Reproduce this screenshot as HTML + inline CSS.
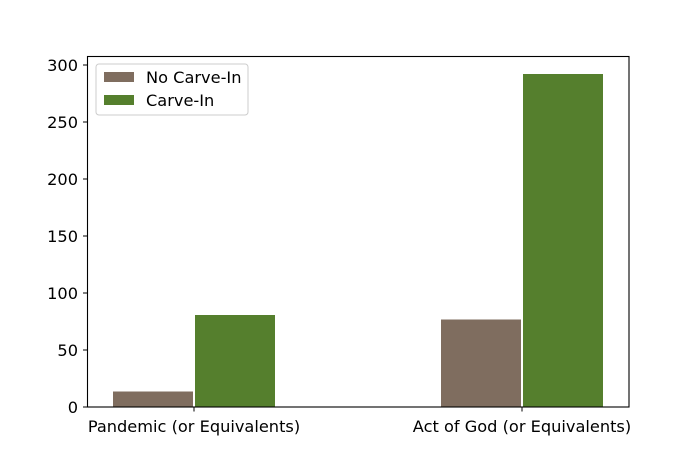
<!DOCTYPE html><html><head><style>body{margin:0;background:#fff}svg{display:block}</style></head><body>
<svg width="697" height="464" xmlns="http://www.w3.org/2000/svg" font-family="DejaVu Sans, sans-serif" font-size="16.2">
<rect width="697" height="464" fill="#fff"/>
<g stroke="#fff" stroke-width="1">
<rect x="112.5" y="391" width="81" height="16" fill="#7f6d5f"/>
<rect x="194.5" y="314.5" width="81" height="92.5" fill="#557f2d"/>
<rect x="440.5" y="319" width="81" height="88" fill="#7f6d5f"/>
<rect x="522.5" y="73.5" width="81" height="333.5" fill="#557f2d"/>
</g>
<rect x="87.5" y="56.5" width="541.5" height="350.5" fill="none" stroke="#000" stroke-width="1.1"/>
<g stroke="#000" stroke-width="1">
<line x1="83" x2="87.5" y1="407" y2="407"/><line x1="83" x2="87.5" y1="350" y2="350"/><line x1="83" x2="87.5" y1="293" y2="293"/><line x1="83" x2="87.5" y1="236" y2="236"/><line x1="83" x2="87.5" y1="179" y2="179"/><line x1="83" x2="87.5" y1="122" y2="122"/><line x1="83" x2="87.5" y1="65" y2="65"/>
<line x1="194" x2="194" y1="407" y2="411.5"/><line x1="522" x2="522" y1="407" y2="411.5"/>
</g>
<g text-anchor="end" fill="#000">
<text x="78" y="413">0</text><text x="78" y="356">50</text><text x="78" y="299">100</text><text x="78" y="242">150</text><text x="78" y="185">200</text><text x="78" y="128">250</text><text x="78" y="71">300</text>
</g>
<g text-anchor="middle"><text x="194" y="432">Pandemic (or Equivalents)</text><text x="522" y="432">Act of God (or Equivalents)</text></g>
<rect x="96" y="64" width="152" height="51" rx="3" fill="#fff" stroke="#ccc" stroke-width="1"/>
<rect x="104" y="72" width="30" height="10" fill="#7f6d5f"/>
<rect x="104" y="95" width="30" height="10" fill="#557f2d"/>
<text x="146" y="83">No Carve-In</text><text x="146" y="106">Carve-In</text>
</svg></body></html>
